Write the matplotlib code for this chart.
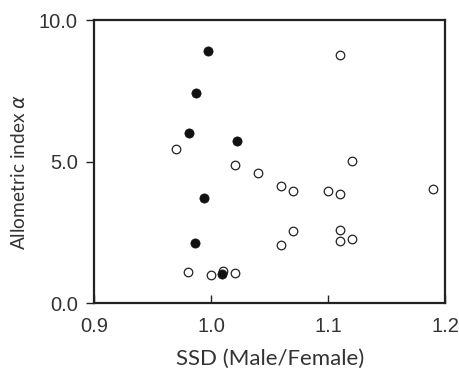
import matplotlib
matplotlib.use("Agg")
import matplotlib.pyplot as plt

plt.rcParams['font.family'] = ['Liberation Sans', 'DejaVu Sans']

filled_x = [0.997, 0.987, 0.981, 1.022, 0.994, 0.986, 1.009]
filled_y = [8.92, 7.41, 6.00, 5.73, 3.71, 2.12, 1.03]

open_x = [0.970, 1.020, 1.040, 1.110, 1.120, 1.060, 1.070, 1.100, 1.110, 1.190,
          1.070, 1.060, 1.110, 1.110, 1.120, 0.980, 1.000, 1.010, 1.020]
open_y = [5.44, 4.88, 4.61, 8.75, 5.02, 4.14, 3.96, 3.97, 3.86, 4.02,
          2.55, 2.06, 2.59, 2.21, 2.27, 1.09, 1.00, 1.13, 1.06]

xticks = [0.9, 1.0, 1.1, 1.2]
xtick_labels = ["0.9", "1.0", "1.1", "1.2"]
yticks = [0, 5, 10]
ytick_labels = ["0.0", "5.0", "10.0"]

fig = plt.figure(figsize=(4.6, 3.71), dpi=100)
ax = fig.add_axes([0.2054, 0.1825, 0.762, 0.7635])

ax.scatter(open_x, open_y, s=38, facecolors='white', edgecolors='#222222', linewidths=0.9, zorder=3)
ax.scatter(filled_x, filled_y, s=44, facecolors='#111111', edgecolors='#111111', linewidths=0.5, zorder=4)

ax.set_xlim(0.9, 1.2)
ax.set_ylim(0, 10)
ax.set_xticks(xticks)
ax.set_xticklabels(xtick_labels, fontfamily='Liberation Sans')
ax.set_yticks(yticks)
ax.set_yticklabels(ytick_labels, fontfamily='Liberation Sans')

for s in ax.spines.values():
    s.set_linewidth(1.6)
    s.set_color('#222222')

ax.tick_params(axis='x', direction='in', length=6, width=1, color='#222222', labelsize=14.5, pad=10, labelcolor='#333333')
ax.tick_params(axis='y', direction='out', length=6, width=1, color='#222222', labelsize=14.5, pad=6, labelcolor='#333333')

ax.set_xlabel("SSD (Male/Female)", fontsize=16, color='#333333', family=['Lato', 'DejaVu Sans'])
ax.set_ylabel("Allometric index " + r"$\it{\alpha}$", fontsize=13.8, color='#333333', family=['Lato', 'DejaVu Sans'])
ax.xaxis.set_label_coords(0.5, -0.16)
ax.yaxis.set_label_coords(-0.19, 0.465)

fig.savefig("out.png", dpi=100)
